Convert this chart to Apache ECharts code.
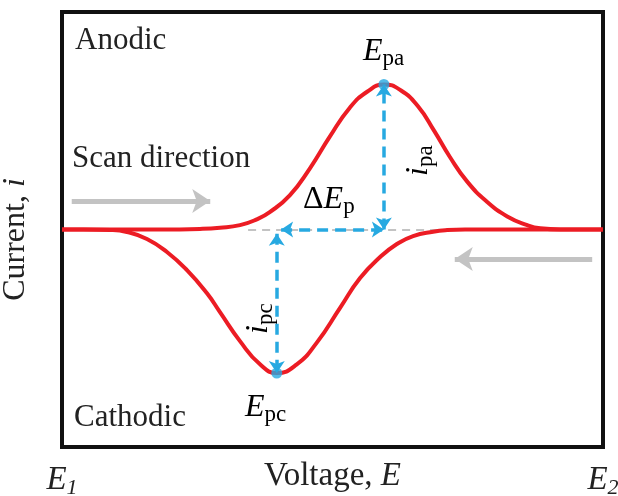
<!DOCTYPE html>
<html>
<head>
<meta charset="utf-8">
<script src="https://cdn.jsdelivr.net/npm/echarts@6/dist/echarts.min.js"></script>
<style>
html,body{margin:0;padding:0;background:#fff;}
#chart{width:618px;height:496px;}
</style>
</head>
<body>
<div id="chart"></div>
<script>
// Forward (anodic) scan, E1 -> E2
const forwardE = [0, 10.0, 18.0, 25.5, 29.2, 32.9, 36.0, 38.4, 42.1, 45.8, 49.5, 53.2, 56.4, 59.5, 62.6, 65.8, 68.8, 71.7, 74.9, 78.6, 82.3, 86.0, 88.4, 92.1, 100];
const forwardI = [0, 0, 0, 0.004, 0.012, 0.03, 0.07, 0.12, 0.235, 0.42, 0.64, 0.84, 0.95, 1.0, 0.96, 0.85, 0.68, 0.50, 0.33, 0.19, 0.09, 0.03, 0.008, 0, 0];
// Reverse (cathodic) scan, E2 -> E1
const reverseE = [100, 90.0, 80.0, 74.5, 71.2, 68.6, 64.9, 61.9, 58.8, 55.1, 51.4, 47.1, 43.4, 39.7, 36.6, 32.9, 29.2, 26.8, 23.1, 19.4, 15.7, 12.0, 8.9, 4.0, 0];
const reverseI = [0, 0, 0, 0, -0.004, -0.015, -0.045, -0.10, -0.19, -0.335, -0.54, -0.78, -0.93, -0.99, -0.93, -0.77, -0.57, -0.44, -0.28, -0.155, -0.065, -0.017, -0.003, 0, 0];
// Peaks
const peakAnodic = [59.5, 1.0];
const peakCathodic = [39.7, -0.99];
// Baseline guide extent
const baselineGuide = [34.4, 70.8];
// Scan direction arrows (data coords)
const scanForward = [[1.8, 0.197], [27.4, 0.197]];
const scanReverse = [[98.0, -0.203], [72.6, -0.203]];
// Axis tick labels
const xTickValues = [0, 100];
const xTickLabels = ['1', '2'];

const RED = '#ec1c24';
const BLUE = '#27a9e1';
const GRAY = '#c3c3c3';
const INK = '#222';
const FONT = '"Liberation Serif", "Times New Roman", serif';

const chart = echarts.init(document.getElementById('chart'), null, {renderer: 'canvas'});

function zip(a, b) { return a.map((v, i) => [v, b[i]]); }

const blueLine = {color: BLUE, width: 3.5, type: [11, 7]};
const subRich = () => ({
  e: {fontFamily: FONT, fontStyle: 'italic', fontSize: 32, color: INK},
  d: {fontFamily: FONT, fontSize: 32, color: INK},
  s: {fontFamily: FONT, fontSize: 23, color: INK, padding: [14, 0, 0, 0]}
});

const option = {
  animation: false,
  backgroundColor: '#fff',
  grid: {left: 62, right: 15, top: 12, bottom: 49, show: true, borderColor: '#111', borderWidth: 4,
         backgroundColor: 'transparent', containLabel: false, outerBoundsMode: 'none'},
  xAxis: {
    type: 'value', min: 0, max: 100, interval: 100,
    axisLine: {show: false}, axisTick: {show: false}, splitLine: {show: false},
    axisLabel: {
      margin: 14,
      formatter: v => '{e|E}{s|' + xTickLabels[xTickValues.indexOf(v)] + '}',
      rich: {
        e: {fontFamily: FONT, fontStyle: 'italic', fontSize: 33, color: INK},
        s: {fontFamily: FONT, fontStyle: 'italic', fontSize: 22, color: INK, padding: [16, 0, 0, 0]}
      }
    },
    name: '{t|Voltage, }{e|E}', nameLocation: 'middle', nameGap: 13, nameMoveOverlap: false,
    nameTextStyle: {
      rich: {
        t: {fontFamily: FONT, fontSize: 33, color: INK},
        e: {fontFamily: FONT, fontSize: 33, fontStyle: 'italic', color: INK}
      }
    }
  },
  yAxis: {
    type: 'value', min: -1.5, max: 1.5,
    axisLine: {show: false}, axisTick: {show: false}, splitLine: {show: false}, axisLabel: {show: false},
    name: '{t|Current, }{e|i}', nameLocation: 'middle', nameRotate: 90, nameGap: 30, nameMoveOverlap: false,
    nameTextStyle: {
      padding: [0, 20, 0, 0],
      rich: {
        t: {fontFamily: FONT, fontSize: 32, color: INK},
        e: {fontFamily: FONT, fontSize: 32, fontStyle: 'italic', color: INK}
      }
    }
  },
  series: [
    {
      type: 'line', data: zip(forwardE, forwardI), smooth: 0.5, symbol: 'none',
      lineStyle: {color: RED, width: 4}, z: 3,
      markLine: {
        silent: true, symbol: 'none', label: {show: false},
        lineStyle: {color: GRAY, width: 2, type: [8, 6]},
        data: [[{coord: [baselineGuide[0], 0]}, {coord: [baselineGuide[1], 0]}]],
        z: 1
      }
    },
    {
      type: 'line', data: zip(reverseE, reverseI), smooth: 0.5, symbol: 'none',
      lineStyle: {color: RED, width: 4}, z: 3,
      markLine: {
        silent: true, symbol: ['none', 'arrow'], symbolSize: 18, label: {show: false},
        lineStyle: {color: GRAY, width: 5, type: 'solid'},
        data: [
          [{coord: scanForward[0]}, {coord: scanForward[1]}],
          [{coord: scanReverse[0]}, {coord: scanReverse[1]}]
        ]
      }
    },
    {
      type: 'scatter', data: [peakAnodic, peakCathodic], symbolSize: 11,
      itemStyle: {color: BLUE}, z: 6,
      markLine: {
        silent: true, symbol: ['arrow', 'arrow'], symbolSize: 12, label: {show: false},
        lineStyle: blueLine,
        data: [
          [{coord: [peakAnodic[0], 0]}, {coord: [peakAnodic[0], peakAnodic[1]]}],
          [{coord: [peakCathodic[0] + 0.8, 0]}, {coord: [peakAnodic[0], 0]}],
          [{coord: [peakCathodic[0], -0.03]}, {coord: [peakCathodic[0], peakCathodic[1]]}]
        ],
        z: 5
      }
    }
  ],
  graphic: [
    {type: 'text', left: 75, top: 25, style: {text: 'Anodic', font: '31px ' + FONT, fill: INK}},
    {type: 'text', left: 72, top: 143, style: {text: 'Scan direction', font: '31px ' + FONT, fill: INK}},
    {type: 'text', left: 74, top: 402, style: {text: 'Cathodic', font: '31px ' + FONT, fill: INK}},
    {type: 'text', left: 363, top: 36, style: {text: '{e|E}{s|pa}', rich: subRich()}},
    {type: 'text', left: 245, top: 392, style: {text: '{e|E}{s|pc}', rich: subRich()}},
    {type: 'text', left: 303, top: 184, style: {text: '{d|Δ}{e|E}{s|p}', rich: subRich()}},
    {type: 'text', x: 400, y: 176, rotation: Math.PI / 2, style: {text: '{e|i}{s|pa}', rich: subRich()}},
    {type: 'text', x: 240, y: 334, rotation: Math.PI / 2, style: {text: '{e|i}{s|pc}', rich: subRich()}}
  ]
};
chart.setOption(option);
</script>
</body>
</html>
